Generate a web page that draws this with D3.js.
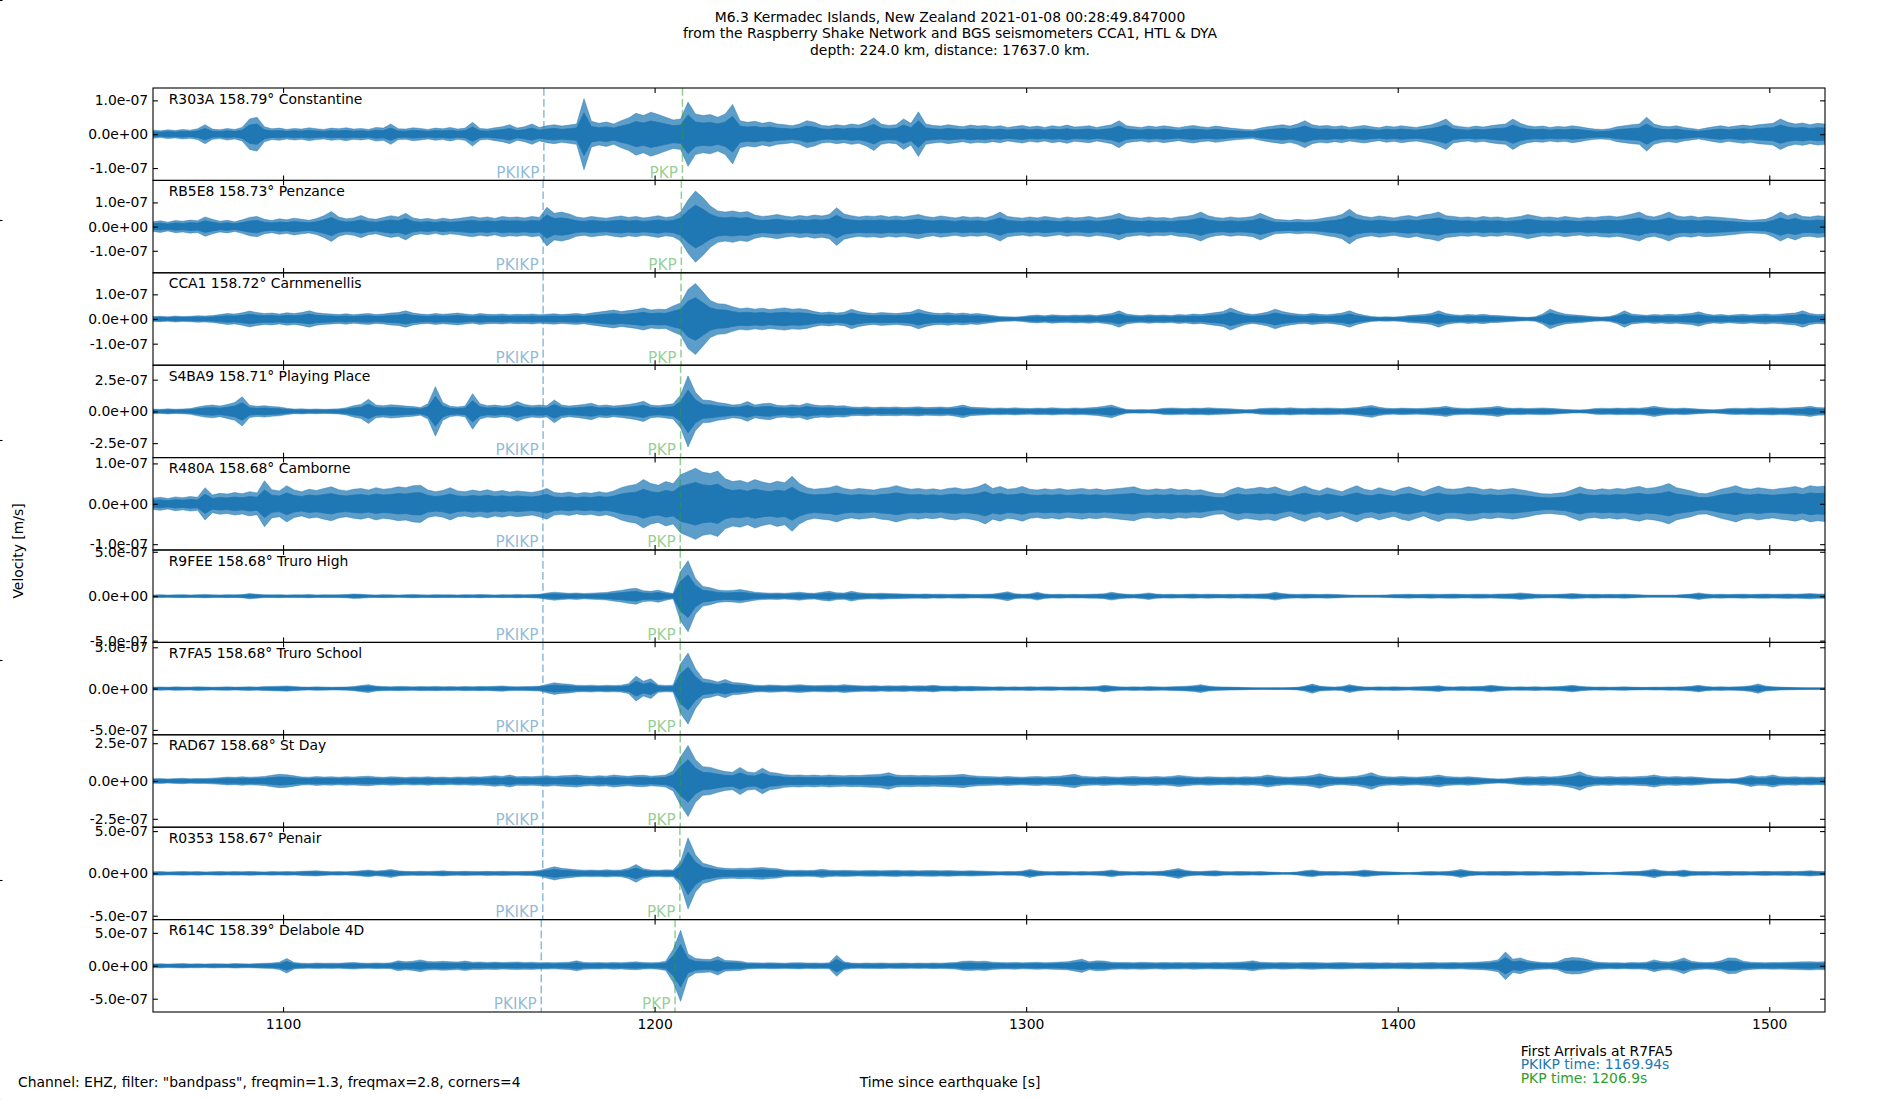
<!DOCTYPE html>
<html>
<head>
<meta charset="utf-8">
<title>M6.3 Kermadec Islands - Raspberry Shake section</title>
<script src="https://d3js.org/d3.v7.min.js"></script>
<style>
  body { margin: 0; background: #fff; }
  text { font-family: "DejaVu Sans", sans-serif; }
</style>
</head>
<body>
<svg width="1900" height="1100"></svg>
<script>
// ---- data ----
const stations  = ['R303A', 'RB5E8', 'CCA1', 'S4BA9', 'R480A', 'R9FEE', 'R7FA5', 'RAD67', 'R0353', 'R614C'];
const distances = [158.79, 158.73, 158.72, 158.71, 158.68, 158.68, 158.68, 158.68, 158.67, 158.39];
const places    = ['Constantine', 'Penzance', 'Carnmenellis', 'Playing Place', 'Camborne',
                   'Truro High', 'Truro School', 'St Day', 'Penair', 'Delabole 4D'];
const pkikpTimes = [1170.2, 1170.0, 1170.0, 1170.0, 1169.94, 1169.94, 1169.94, 1169.94, 1169.9, 1169.5];
const pkpTimes   = [1207.5, 1207.2, 1207.1, 1207.0, 1206.9, 1206.9, 1206.9, 1206.9, 1206.8, 1205.5];
const yTickSteps = [1e-7, 1e-7, 1e-7, 2.5e-7, 1e-7, 5e-7, 5e-7, 2.5e-7, 5e-7, 5e-7];
const xTicks  = [1100, 1200, 1300, 1400, 1500];
const xDomain = [1065, 1515];
const titleLines = ['M6.3 Kermadec Islands, New Zealand 2021-01-08 00:28:49.847000',
                    'from the Raspberry Shake Network and BGS seismometers CCA1, HTL & DYA',
                    'depth: 224.0 km, distance: 17637.0 km.'];

// trace envelopes (peak |velocity|, nm/s), one value every 2 s from 1065 s
const timeStart = 1065, timeStep = 2;
const amp_R303A = [
  12,10,13,11,14,12,16,28,15,13,17,14,20,45,50,22,16,18,14,17,15,19,16,14,18,
  16,19,15,17,14,20,18,30,16,15,19,17,14,18,16,20,15,18,35,17,15,19,22,28,18,
  22,30,20,25,28,24,27,30,105,38,32,36,30,40,48,62,55,65,58,50,42,45,95,60,55,
  58,50,60,88,40,35,38,32,36,30,28,25,30,40,35,26,24,28,25,30,27,35,48,30,26,
  28,45,32,66,30,26,24,28,25,22,27,24,26,22,25,20,23,26,21,24,20,25,22,27,21,
  23,25,20,24,28,40,25,22,20,24,21,25,22,19,23,26,22,20,24,21,18,16,14,13,18,
  22,25,28,24,30,40,28,24,26,22,25,20,23,26,22,19,24,21,25,22,20,24,28,35,45,
  26,22,20,24,21,25,28,30,45,32,25,22,24,20,23,21,25,22,18,15,14,16,22,25,28,
  30,50,30,24,22,25,20,17,14,18,22,25,21,24,27,24,28,30,32,45,35,30,33,28,32,
  30];
const amp_RB5E8 = [
  20,24,18,25,22,27,24,40,30,22,26,20,28,38,42,30,25,32,28,35,30,26,33,45,62,
  40,32,36,46,34,30,38,45,40,55,36,30,34,28,35,30,33,38,42,36,40,34,42,38,40,
  36,42,38,80,55,60,52,40,36,42,38,35,40,44,38,42,36,40,45,38,42,60,110,147,120,
  85,65,60,65,58,62,48,42,45,50,44,40,46,42,48,44,50,78,52,45,40,44,42,46,40,
  44,40,45,50,42,38,44,40,36,42,38,40,36,45,60,42,38,35,40,36,42,38,34,40,36,
  38,42,36,40,45,55,42,38,35,40,36,38,34,40,42,48,60,45,38,35,40,36,38,42,55,
  42,30,28,26,30,27,28,32,38,42,50,72,50,42,38,44,40,36,42,46,40,48,52,60,45,
  42,38,40,36,42,38,40,35,38,42,50,44,38,40,36,42,38,35,40,38,42,44,40,45,52,
  60,45,40,48,60,45,40,44,38,42,40,38,35,32,28,26,28,30,42,60,45,55,42,40,45,
  42];
const amp_CCA1 = [
  10,11,9,12,10,11,13,12,14,18,22,20,25,32,26,22,24,20,25,22,26,33,25,22,20,
  18,21,17,20,22,18,20,24,26,33,24,20,18,22,19,21,24,20,17,22,19,18,20,17,19,
  18,20,17,19,21,18,20,22,19,24,28,32,36,30,34,38,45,36,40,38,53,65,120,144,110,
  75,62,60,50,42,45,40,44,38,42,45,40,42,38,30,25,28,24,27,40,30,25,22,26,24,
  22,25,28,40,30,24,22,25,21,24,20,22,18,14,10,9,8,10,14,16,13,17,15,14,16,
  15,17,14,18,22,33,20,16,14,17,15,16,14,18,16,20,18,22,26,30,45,32,22,18,22,
  28,40,30,24,20,18,22,19,17,20,24,33,22,15,10,8,9,8,10,14,16,18,22,33,22,
  17,15,18,16,19,15,14,12,10,8,7,9,20,40,28,20,17,15,12,9,8,10,18,33,20,
  17,15,18,16,19,17,20,22,29,20,16,18,15,17,19,16,18,20,17,19,22,24,33,22,18,
  20];
const amp_S4BA9 = [
  18,16,20,17,19,22,35,45,50,42,55,70,115,48,40,45,38,35,25,18,20,17,19,16,18,
  20,28,45,55,96,50,45,52,48,42,38,30,60,195,70,40,35,42,140,60,45,50,42,48,78,
  55,45,50,44,90,50,42,48,55,65,45,50,42,48,55,65,80,50,45,52,60,130,280,150,90,
  85,70,62,50,55,78,50,60,65,48,45,52,46,65,50,44,48,42,45,35,32,36,30,34,32,
  35,30,33,36,30,32,35,30,38,50,34,30,28,25,27,24,28,25,22,26,24,28,25,23,27,
  25,28,32,40,50,30,15,13,14,13,16,24,27,25,22,26,24,28,25,22,20,16,13,14,22,
  25,27,24,28,25,23,26,24,27,25,22,26,30,38,47,32,25,22,26,24,22,25,28,32,40,
  28,25,23,26,28,32,40,28,24,26,23,25,27,24,20,16,13,12,14,22,25,23,26,24,27,
  25,30,40,30,25,23,26,22,18,15,13,16,22,25,23,27,24,26,28,25,27,30,32,40,30,
  28];
const amp_R480A = [
  14,16,13,17,15,18,16,40,22,26,24,28,25,30,27,57,35,32,45,34,30,36,33,38,42,
  35,32,36,38,34,40,36,38,42,40,45,46,34,30,33,40,32,30,34,31,35,30,33,29,32,
  30,28,32,38,28,26,29,25,28,26,30,27,32,40,45,48,60,50,46,55,50,72,80,88,78,
  75,81,62,55,58,52,60,54,50,56,52,68,50,40,36,38,40,45,38,35,38,36,34,38,40,
  45,40,36,38,35,37,34,38,40,36,38,42,50,38,43,36,38,43,36,34,37,35,38,34,36,
  38,35,37,34,36,38,40,42,36,34,37,35,38,34,36,33,35,30,26,25,35,41,36,38,41,
  38,42,35,30,38,44,36,32,40,35,30,38,45,36,33,40,35,31,38,42,36,30,38,44,37,
  36,38,42,40,35,37,34,36,38,35,32,28,25,24,26,28,35,42,36,34,37,35,38,36,40,
  43,38,40,44,50,40,36,32,26,25,30,36,40,45,38,36,40,37,35,38,40,43,38,45,42,
  44];
const amp_R9FEE = [
  14,16,13,15,17,14,16,18,15,14,17,15,18,30,22,16,15,17,14,16,15,18,14,16,15,
  16,18,25,22,16,14,17,15,13,16,18,15,14,17,15,16,14,17,15,18,16,14,17,15,18,
  16,18,22,35,45,38,32,36,30,34,38,42,55,65,80,90,60,55,68,45,30,280,400,200,110,
  95,70,62,65,75,60,45,38,34,36,32,38,45,35,32,45,55,38,35,55,38,32,30,34,30,
  28,26,24,22,25,21,23,20,22,24,21,20,22,24,35,50,28,22,26,44,25,20,22,19,21,
  20,22,24,28,44,30,22,20,26,37,24,20,22,19,21,24,20,23,21,19,22,20,24,22,25,
  28,44,30,22,20,23,21,19,22,20,16,13,11,12,11,12,14,18,20,22,19,21,23,20,22,
  24,21,20,23,22,20,24,26,28,37,30,22,20,18,21,24,30,24,20,22,19,21,20,23,19,
  16,12,11,12,11,13,18,24,37,25,20,22,19,21,23,20,22,24,21,23,25,22,26,30,24,
  25];
const amp_R7FA5 = [
  18,20,17,21,19,18,22,20,17,19,21,18,20,22,19,24,26,28,32,25,20,18,21,19,17,
  18,20,25,38,48,30,25,22,26,24,21,25,23,26,22,24,21,25,23,26,24,28,32,24,22,
  24,26,30,50,70,58,52,40,38,42,36,40,38,42,60,150,90,120,45,38,42,300,430,240,120,
  105,80,110,75,68,55,42,38,44,40,36,42,48,40,36,38,42,38,48,40,35,32,36,30,34,
  32,36,30,34,32,40,30,28,32,26,28,24,22,20,22,19,21,20,23,19,21,22,18,20,21,
  19,22,24,40,30,21,19,22,20,24,21,19,22,25,28,35,48,30,22,20,18,16,13,11,10,
  10,11,10,12,16,30,56,30,22,19,24,48,30,20,18,21,19,22,20,18,21,24,28,36,22,
  20,24,22,26,28,40,30,22,19,21,20,23,19,21,24,30,40,28,21,18,20,17,19,21,18,
  16,15,18,17,20,19,22,28,40,26,20,22,19,21,25,35,56,30,22,18,15,13,11,10,10,
  9];
const amp_RAD67 = [
  15,17,14,16,18,15,17,16,19,22,26,24,28,25,27,30,38,44,42,34,27,25,29,26,28,
  25,28,26,29,32,27,24,28,26,23,27,25,28,24,26,23,27,25,28,26,30,35,30,40,28,
  30,28,32,35,30,34,36,40,33,30,35,32,40,34,31,36,38,32,35,40,66,160,235,140,95,
  90,75,62,58,90,60,55,85,58,52,42,38,40,36,39,35,40,37,34,38,36,40,42,45,55,
  40,36,38,35,37,34,36,38,40,44,36,32,30,28,26,29,27,25,28,30,27,29,32,38,44,
  32,28,26,29,27,25,28,30,27,26,29,27,30,37,32,27,25,28,26,24,27,25,28,26,30,
  40,32,27,25,28,30,36,48,34,27,25,28,32,42,55,35,28,26,29,27,25,28,32,40,30,
  27,25,28,24,20,16,14,15,20,25,28,26,29,27,30,36,45,61,40,30,27,29,26,28,27,
  29,32,40,30,27,29,26,28,24,20,16,15,14,17,24,37,28,30,40,28,26,28,25,27,24,
  26];
const amp_R0353 = [
  19,21,18,20,22,19,21,18,20,22,19,21,20,23,20,18,21,19,22,20,24,28,31,24,20,
  21,19,24,32,40,28,35,47,30,24,22,25,23,26,30,24,22,25,23,21,24,22,25,23,21,
  24,26,35,55,78,60,52,42,38,40,36,42,38,40,60,105,55,40,38,42,40,140,420,220,120,
  95,70,60,56,62,58,65,70,60,55,40,35,38,34,37,48,38,33,36,34,30,33,35,32,34,
  36,32,34,30,33,35,31,34,30,28,32,29,26,22,20,23,21,28,47,30,22,20,23,21,19,
  22,20,23,28,40,26,21,19,22,20,23,28,42,59,35,24,21,28,32,22,20,23,21,19,22,
  18,14,10,11,18,32,40,25,21,23,20,22,28,40,30,22,20,16,12,10,14,20,22,19,23,
  30,47,30,22,20,23,21,24,22,20,23,21,19,22,24,21,20,22,18,15,12,10,14,20,22,
  24,35,50,32,24,28,40,26,21,23,20,22,24,21,23,20,22,24,21,23,25,22,26,32,24,
  22];
const amp_R614C = [
  28,32,26,30,34,29,31,27,33,30,28,35,31,29,34,38,42,55,110,50,40,36,42,38,40,
  38,45,50,42,38,44,40,45,75,60,70,90,65,60,68,62,58,72,55,58,52,56,50,54,58,
  52,55,48,50,46,52,55,75,52,48,50,45,52,48,55,60,50,46,52,70,250,540,180,110,100,
  95,140,80,75,70,48,45,42,46,44,40,45,48,42,44,40,46,160,60,42,38,42,40,44,38,
  40,42,38,41,39,43,40,45,50,68,72,65,70,55,50,48,52,46,50,54,48,52,56,60,80,
  100,60,75,72,55,50,52,48,54,50,46,52,48,50,46,52,48,45,50,47,52,55,60,75,55,
  50,46,52,48,45,50,52,47,44,48,50,46,42,45,48,44,46,42,45,48,44,47,50,46,48,
  50,46,52,55,60,70,90,210,100,120,80,60,52,48,60,110,125,120,95,60,50,45,48,44,50,
  48,55,90,65,58,80,120,70,55,50,55,75,120,115,70,55,50,48,52,50,54,56,60,62,58,
  60];
const amplitudes = [amp_R303A, amp_RB5E8, amp_CCA1, amp_S4BA9, amp_R480A,
                    amp_R9FEE, amp_R7FA5, amp_RAD67, amp_R0353, amp_R614C];

// ---- layout ----
const plotLeft = 153, plotRight = 1825, plotTop = 88, plotBottom = 1012;
const panelH = (plotBottom - plotTop) / stations.length;
const blue = '#1f77b4', green = '#2ca02c';
const tickLen = 4.9, fontSize = 13.9;

const svg = d3.select('svg');
const xs = d3.scaleLinear().domain(xDomain).range([plotLeft, plotRight]);

// matplotlib style exponent labels, e.g. 1.0e-07
function fmtSci(v) {
  if (v === 0) return '0.0e+00';
  const parts = v.toExponential(1).split('e');
  const n = +parts[1];
  return parts[0] + 'e' + (n < 0 ? '-' : '+') + String(Math.abs(n)).padStart(2, '0');
}

function styleAxis(a) {
  a.select('.domain').remove();
  a.selectAll('line').attr('stroke', '#000').attr('stroke-width', 1.1);
  a.selectAll('text').attr('fill', '#000').attr('font-size', fontSize).attr('font-family', 'DejaVu Sans');
}

// one panel per station
stations.forEach(function(st, i) {
  const amp = amplitudes[i];
  const yMax = d3.max(amp) * 1e-9 * 1.3;
  const ys = d3.scaleLinear().domain([-yMax, yMax]).range([panelH, 0]);
  const g = svg.append('g').attr('transform', 'translate(0,' + (plotTop + i * panelH) + ')');

  g.append('clipPath').attr('id', 'clip' + i)
    .append('rect')
      .attr('x', plotLeft).attr('y', 0)
      .attr('width', plotRight - plotLeft).attr('height', panelH);

  // waveform: peak envelope, with a solid core where the trace is densest
  const envelope = function(k) {
    return d3.area()
      .x(function(d, j) { return xs(timeStart + j * timeStep); })
      .y0(function(d) { return ys(-d * k * 1e-9); })
      .y1(function(d) { return ys(d * k * 1e-9); });
  };
  const trace = g.append('g').attr('clip-path', 'url(#clip' + i + ')');
  trace.append('path')
    .datum(amp)
    .attr('d', envelope(1))
    .attr('fill', blue)
    .attr('fill-opacity', 0.72)
    .attr('stroke', blue)
    .attr('stroke-opacity', 0.72)
    .attr('stroke-width', 0.6);
  trace.append('path')
    .datum(amp)
    .attr('d', envelope(0.6))
    .attr('fill', blue)
    .attr('stroke', blue)
    .attr('stroke-width', 0.8);

  // arrival markers
  const arrivals = [[pkikpTimes[i], blue, 'PKIKP'], [pkpTimes[i], green, 'PKP']];
  arrivals.forEach(function(a) {
    g.append('line')
      .attr('x1', xs(a[0])).attr('x2', xs(a[0]))
      .attr('y1', 0).attr('y2', panelH)
      .attr('stroke', a[1]).attr('stroke-opacity', 0.5)
      .attr('stroke-width', 1.5)
      .attr('stroke-dasharray', '7.7,3.3');
    g.append('text')
      .attr('x', xs(a[0]) - 4.5)
      .attr('y', panelH - 2.5)
      .attr('text-anchor', 'end')
      .attr('font-size', 15.3)
      .attr('fill', a[1]).attr('fill-opacity', 0.5)
      .text(a[2]);
  });

  // station label
  g.append('text')
    .attr('x', plotLeft + 15.7)
    .attr('y', 15.5)
    .attr('font-size', fontSize)
    .text(st + ' ' + distances[i].toFixed(2) + '\u00b0 ' + places[i]);

  // axes, ticks pointing inwards
  const yt = [-yTickSteps[i], 0, yTickSteps[i]];
  g.append('g').attr('transform', 'translate(' + plotLeft + ',0)')
    .call(d3.axisLeft(ys).tickValues(yt).tickFormat(fmtSci)
      .tickSizeInner(-tickLen).tickSizeOuter(0).tickPadding(4.9))
    .call(styleAxis);
  g.append('g').attr('transform', 'translate(' + plotRight + ',0)')
    .call(d3.axisRight(ys).tickValues(yt).tickFormat(function() { return ''; })
      .tickSizeInner(-tickLen).tickSizeOuter(0))
    .call(styleAxis);
  g.append('g')
    .call(d3.axisTop(xs).tickValues(xTicks).tickFormat(function() { return ''; })
      .tickSizeInner(-tickLen).tickSizeOuter(0))
    .call(styleAxis);
  const last = i === stations.length - 1;
  g.append('g').attr('transform', 'translate(0,' + panelH + ')')
    .call(d3.axisBottom(xs).tickValues(xTicks)
      .tickFormat(last ? d3.format('d') : function() { return ''; })
      .tickSizeInner(-tickLen).tickSizeOuter(0).tickPadding(7))
    .call(styleAxis);

  // frame
  g.append('rect')
    .attr('x', plotLeft).attr('y', 0)
    .attr('width', plotRight - plotLeft).attr('height', panelH)
    .attr('fill', 'none').attr('stroke', '#000').attr('stroke-width', 1.1);
});

// ticks of the hidden full-figure axis, just visible at the left edge
const figTicks = [0, 0.2, 0.4, 0.6, 0.8, 1.0];
const figY = d3.scaleLinear().domain([0, 1]).range([1100, 0]);
svg.append('g').selectAll('line').data(figTicks).enter().append('line')
  .attr('x1', 0).attr('x2', 2.5)
  .attr('y1', function(d) { return figY(d) + 0.5; })
  .attr('y2', function(d) { return figY(d) + 0.5; })
  .attr('stroke', '#000').attr('stroke-width', 1.1);

// title
svg.append('g').selectAll('text').data(titleLines).enter().append('text')
  .attr('x', 950)
  .attr('y', function(d, k) { return 21.5 + k * 16.6; })
  .attr('text-anchor', 'middle')
  .attr('font-size', fontSize)
  .text(function(d) { return d; });

// y label
svg.append('text')
  .attr('transform', 'translate(18,551) rotate(-90)')
  .attr('text-anchor', 'middle')
  .attr('dy', '0.35em')
  .attr('font-size', fontSize)
  .text('Velocity [m/s]');

// x label and filter note
svg.append('text')
  .attr('x', 950).attr('y', 1087)
  .attr('text-anchor', 'middle')
  .attr('font-size', fontSize)
  .text('Time since earthquake [s]');
svg.append('text')
  .attr('x', 18).attr('y', 1087)
  .attr('font-size', fontSize)
  .text('Channel: EHZ, filter: "bandpass", freqmin=1.3, freqmax=2.8, corners=4');

// first arrivals note
const noteLines = [['First Arrivals at R7FA5', '#000'],
                   ['PKIKP time: ' + 1169.94 + 's', blue],
                   ['PKP time: ' + 1206.9 + 's', green]];
svg.append('g').selectAll('text').data(noteLines).enter().append('text')
  .attr('x', 1520.7)
  .attr('y', function(d, k) { return 1055.7 + k * 13.5; })
  .attr('font-size', fontSize)
  .attr('fill', function(d) { return d[1]; })
  .text(function(d) { return d[0]; });
</script>
</body>
</html>
